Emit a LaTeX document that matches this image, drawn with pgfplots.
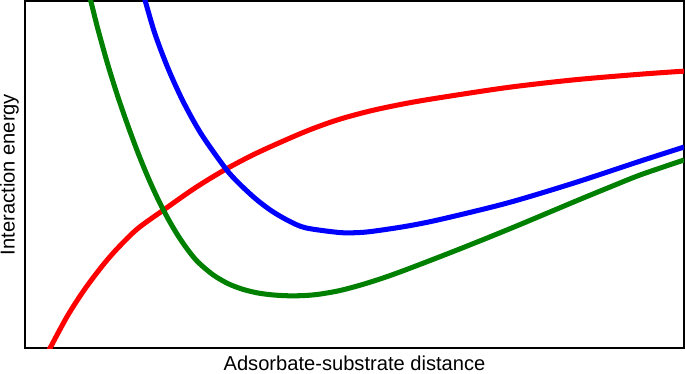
\documentclass[border=0pt]{standalone}
\usepackage{pgfplots}
\pgfplotsset{compat=1.18}
\usepackage{fontspec}
\setmainfont{Liberation Sans}
\definecolor{cred}{RGB}{255,0,0}
\definecolor{cblue}{RGB}{0,0,255}
\definecolor{cgreen}{RGB}{0,128,0}
\begin{document}
\begin{tikzpicture}
\begin{axis}[
  scale only axis,
  width=655bp, height=345bp,
  xmin=28, xmax=683, ymin=0, ymax=345,
  xtick=\empty, ytick=\empty,
  axis line style={line width=1.8bp},
  xlabel={Adsorbate-substrate distance},
  ylabel={Interaction energy},
  label style={font=\fontsize{20bp}{24bp}\selectfont},
  xlabel style={at={(axis description cs:0.5,0)}, anchor=north, inner sep=3bp, yshift=-4.4bp},
  ylabel style={at={(axis description cs:-0.009,0.5)}, anchor=south, inner sep=0pt},
]
\addplot[cred, line width=5bp, smooth] coordinates {(50,-6)(53,0)(70,31.5)(87,57.9)(105,81.8)(120,99.1)(140,118.7)(167,138.1)(197,159.1)(227,177.4)(260,194.6)(307,215.3)(340,227.2)(373,236.1)(407,243.2)(440,248.8)(507,258.9)(573,266.5)(640,272.2)(683,275.2)};
\addplot[cblue, line width=5bp, smooth] coordinates {(145,354)(147,347)(157,313)(170,278.5)(185,245.5)(203,213.1)(227,179)(240,164.4)(257,148.6)(273,136.4)(290,126.5)(307,119.5)(340,114.9)(357,114.7)(373,116)(407,121.1)(440,127.7)(507,144.1)(573,163.9)(640,186)(683,199.8)};
\addplot[cgreen, line width=5bp, smooth] coordinates {(91,355)(93,347)(100,319)(110,283)(120,251)(130,222)(140,195)(150,170.5)(160,148.5)(170,129)(180,112)(190,97.5)(200,85.5)(215,72.8)(230,64)(245,58.3)(260,54.7)(275,52.8)(290,52)(305,52.2)(320,53.5)(340,57)(360,62.2)(380,68.4)(400,75.4)(430,86.8)(460,98.5)(490,110.5)(520,122.8)(550,135.4)(580,148)(610,160.3)(640,172.3)(683,186.9)};
\end{axis}
\end{tikzpicture}
\end{document}
